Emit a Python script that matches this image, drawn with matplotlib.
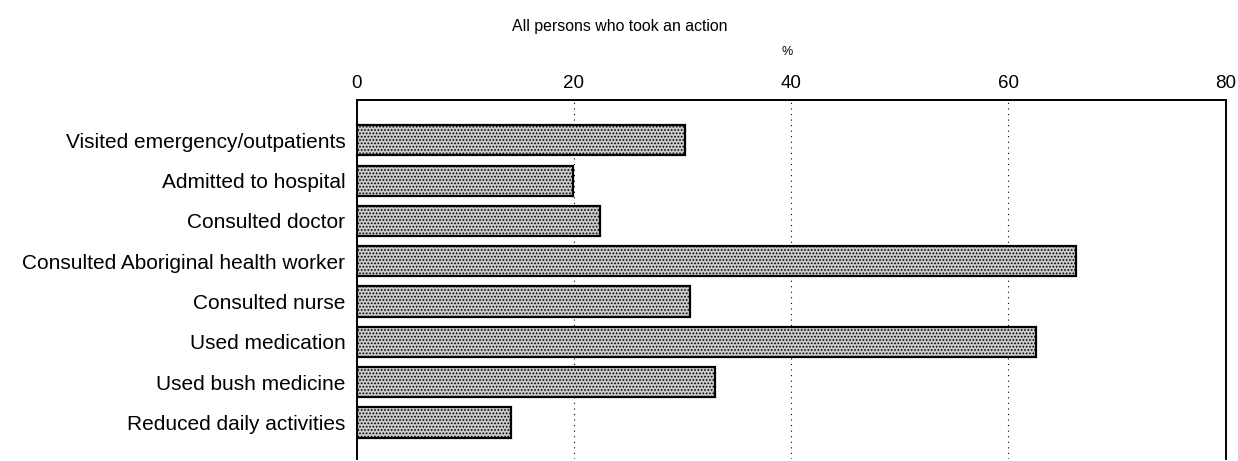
import matplotlib
matplotlib.use("Agg")
from matplotlib import pyplot as plt

plt.rcParams['font.family'] = ['Liberation Sans', 'DejaVu Sans']
plt.rcParams['hatch.color'] = '#555555'
plt.rcParams['hatch.linewidth'] = 0.8

actions = [
    "Visited emergency/outpatients",
    "Admitted to hospital",
    "Consulted doctor",
    "Consulted Aboriginal health worker",
    "Consulted nurse",
    "Used medication",
    "Used bush medicine",
    "Reduced daily activities",
]
percent = [30.2, 19.9, 22.4, 66.2, 30.7, 62.5, 33.0, 14.2]
x_ticks = [0, 20, 40, 60, 80]

fig = plt.figure(figsize=(12.38, 4.61), dpi=100)
ax = fig.add_axes([0.288, 0.005, 0.702, 0.778])

y = list(range(len(actions)))
ax.barh(y, percent, height=0.75, color='#cacaca', edgecolor='black',
        linewidth=1.6, hatch='.....', zorder=3)

ax.set_xlim(0, 80)
ax.set_ylim(7.9, -1.0)
ax.set_yticks(y)
ax.set_yticklabels(actions, fontsize=15)
ax.set_xticks(x_ticks)
ax.set_xticklabels([str(t) for t in x_ticks], fontsize=13.5)
ax.xaxis.tick_top()
ax.tick_params(axis='x', length=0, pad=6)
ax.tick_params(axis='y', length=0, pad=8)

# dotted vertical gridlines
for t in x_ticks[1:-1]:
    ax.axvline(t, color='black', linestyle=(0, (1, 4)), linewidth=0.8, zorder=1)

for side in ['left', 'top', 'right']:
    ax.spines[side].set_linewidth(1.4)
ax.spines['bottom'].set_visible(False)

fig.text(0.501, 0.943, "All persons who took an action", ha='center', va='center', fontsize=11.4)
fig.text(0.636, 0.888, "%", ha='center', va='center', fontsize=9)

fig.savefig("out.png", dpi=100)
